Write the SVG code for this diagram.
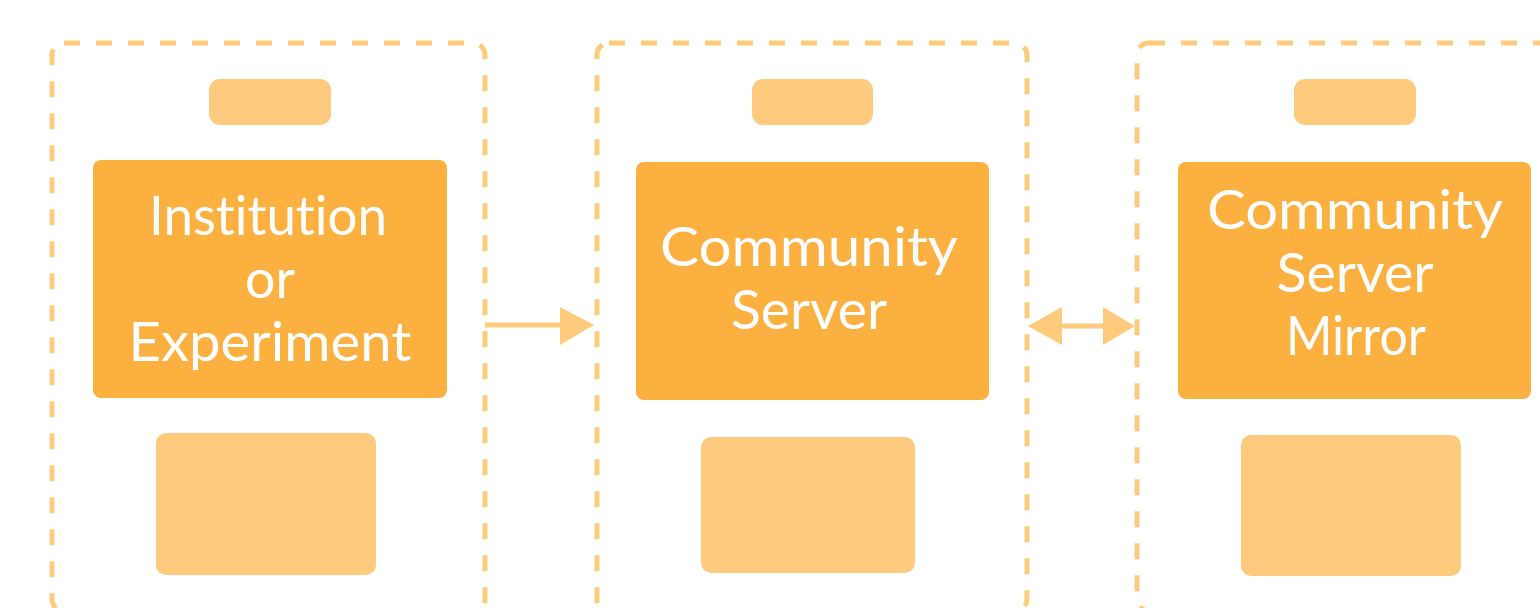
<svg xmlns="http://www.w3.org/2000/svg" width="1540" height="608" viewBox="0 0 1540 608">
<style>
.cont{fill:none;stroke:#FECA7C;stroke-width:5;stroke-dasharray:16 16}
.light{fill:#FDCA7E}
.main{fill:#FBB040}
.t{font-family:Lato,"Open Sans",sans-serif;font-weight:400;font-size:54px;fill:#FFFFFF;text-anchor:middle;font-variant-ligatures:none}
.conn{stroke:#FECA7C;stroke-width:5;fill:none}
.head{fill:#FECA7C}
</style>
<rect width="1540" height="608" fill="#FFFFFF"/>
<g id="container1">
<rect class="cont" x="52" y="43" width="433" height="568" rx="12"/>
<rect class="light" x="209" y="79" width="122" height="46" rx="11"/>
<rect class="main" x="93" y="160" width="354" height="238" rx="8"/>
<rect class="light" x="156" y="433" width="220" height="142" rx="10"/>
<text class="t"><tspan x="268" y="235" textLength="238" lengthAdjust="spacingAndGlyphs">Institution</tspan><tspan x="270" y="298" textLength="50" lengthAdjust="spacingAndGlyphs">or</tspan><tspan x="270" y="361" textLength="283" lengthAdjust="spacingAndGlyphs">Experiment</tspan></text>
</g>
<g id="container2">
<rect class="cont" x="597" y="43" width="430" height="568" rx="12"/>
<rect class="light" x="752" y="79" width="121" height="46" rx="11"/>
<rect class="main" x="636" y="162" width="353" height="238" rx="8"/>
<rect class="light" x="701" y="437" width="214" height="136" rx="10"/>
<text class="t"><tspan x="809" y="266" textLength="298" lengthAdjust="spacingAndGlyphs">Community</tspan><tspan x="809" y="329" textLength="156" lengthAdjust="spacingAndGlyphs">Server</tspan></text>
</g>
<g id="container3">
<rect class="cont" x="1137" y="43" width="440" height="568" rx="12"/>
<rect class="light" x="1294" y="79" width="122" height="46" rx="11"/>
<rect class="main" x="1178" y="162" width="353" height="237" rx="8"/>
<rect class="light" x="1241" y="435" width="220" height="141" rx="10"/>
<text class="t"><tspan x="1355" y="229" textLength="296" lengthAdjust="spacingAndGlyphs">Community</tspan><tspan x="1355" y="292" textLength="157" lengthAdjust="spacingAndGlyphs">Server</tspan><tspan x="1356" y="355" textLength="140" lengthAdjust="spacingAndGlyphs">Mirror</tspan></text>
</g>
<g id="connectors">
<line class="conn" x1="485" y1="325" x2="562" y2="325"/>
<polygon class="head" points="560,307 594,325 560,345"/>
<line class="conn" x1="1060" y1="326" x2="1105" y2="326"/>
<polygon class="head" points="1062,307 1028,326 1062,345"/>
<polygon class="head" points="1103,307 1135,326 1103,345"/>
</g>
</svg>
